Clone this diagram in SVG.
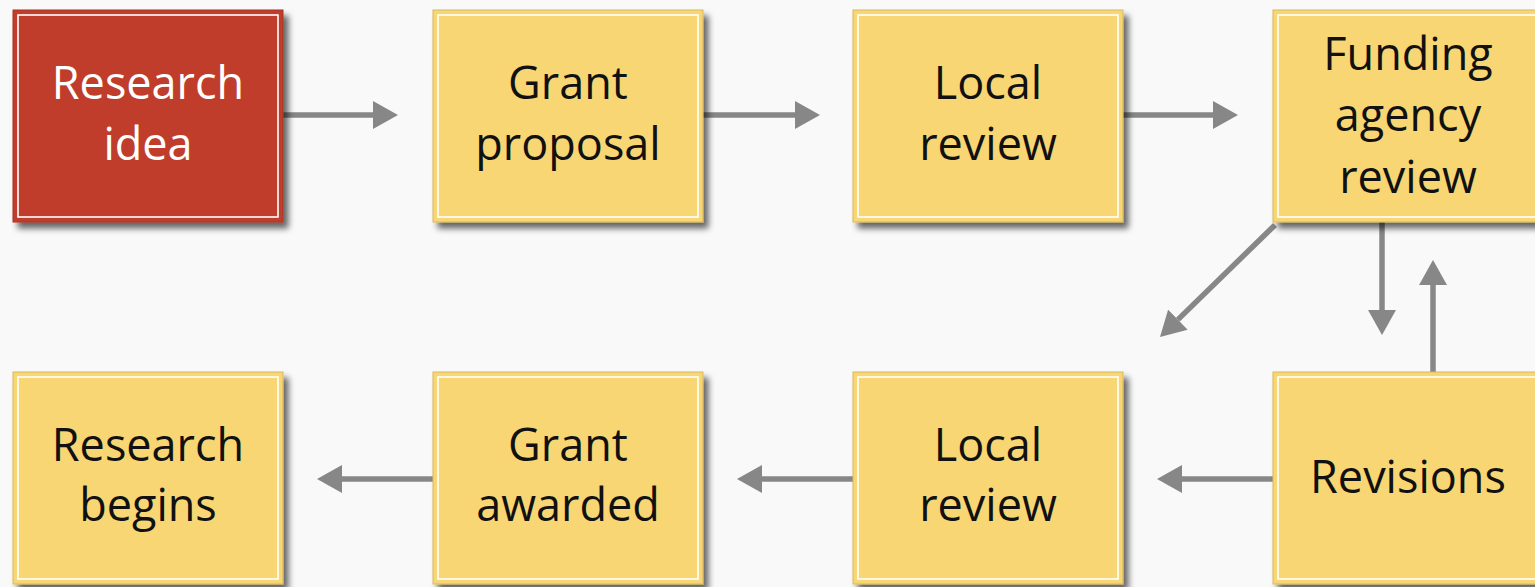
<svg xmlns="http://www.w3.org/2000/svg" width="1535" height="587" viewBox="0 0 1535 587">
  <defs>
    <filter id="shadow" x="-10%" y="-10%" width="130%" height="130%">
      <feGaussianBlur in="SourceAlpha" stdDeviation="3"/>
      <feOffset dx="5" dy="6" result="off"/>
      <feComponentTransfer><feFuncA type="linear" slope="0.6"/></feComponentTransfer>
      <feMerge><feMergeNode/><feMergeNode in="SourceGraphic"/></feMerge>
    </filter>
    <marker id="head" viewBox="0 0 25 28" refX="0" refY="14" markerWidth="25" markerHeight="28" markerUnits="userSpaceOnUse" orient="auto">
      <polygon points="0,0 25,14 0,28" fill="#878787"/>
    </marker>
    <style>
      .box { stroke: #d8b85c; stroke-width: 1; }
      .yellow { fill: #f8d673; }
      .red { fill: #bf3e2b; stroke: #a83322; }
      .inner { fill: none; stroke: #ffffff; stroke-width: 1.6; }
      .label { font-family: "Open Sans", "Noto Sans", sans-serif; font-size: 45px; text-anchor: middle; fill: #111111; }
      .light { fill: #ffffff; }
      .conn { stroke: #878787; stroke-width: 5.5; fill: none; marker-end: url(#head); }
    </style>
  </defs>

  <rect width="1535" height="587" fill="#f9f9f9"/>

  <!-- connectors -->
  <g id="connectors">
    <path class="conn" d="M283,115 H373"/>
    <path class="conn" d="M703,115 H795"/>
    <path class="conn" d="M1123,115 H1213"/>
    <path class="conn" d="M1382,222 V310"/>
    <path class="conn" d="M1433,372 V285"/>
    <path class="conn" d="M1275,225 L1177.9,319.6"/>
    <path class="conn" d="M1273,479 H1182"/>
    <path class="conn" d="M853,479 H762"/>
    <path class="conn" d="M433,479 H342"/>
  </g>

  <!-- top row -->
  <g id="research-idea">
    <rect class="box red" x="13" y="10" width="270" height="212" filter="url(#shadow)"/>
    <rect class="inner" x="18" y="15" width="260" height="202"/>
    <text class="label light" x="148" y="99">Research</text>
    <text class="label light" x="148" y="160">idea</text>
  </g>
  <g id="grant-proposal">
    <rect class="box yellow" x="433" y="10" width="270" height="212" filter="url(#shadow)"/>
    <rect class="inner" x="438" y="15" width="260" height="202"/>
    <text class="label" x="568" y="99">Grant</text>
    <text class="label" x="568" y="160">proposal</text>
  </g>
  <g id="local-review-1">
    <rect class="box yellow" x="853" y="10" width="270" height="212" filter="url(#shadow)"/>
    <rect class="inner" x="858" y="15" width="260" height="202"/>
    <text class="label" x="988" y="99">Local</text>
    <text class="label" x="988" y="160">review</text>
  </g>
  <g id="funding-agency-review">
    <rect class="box yellow" x="1273" y="10" width="270" height="212" filter="url(#shadow)"/>
    <rect class="inner" x="1278" y="15" width="260" height="202"/>
    <text class="label" x="1408" y="70">Funding</text>
    <text class="label" x="1408" y="131">agency</text>
    <text class="label" x="1408" y="193">review</text>
  </g>

  <!-- bottom row -->
  <g id="research-begins">
    <rect class="box yellow" x="13" y="372" width="270" height="212" filter="url(#shadow)"/>
    <rect class="inner" x="18" y="377" width="260" height="202"/>
    <text class="label" x="148" y="461">Research</text>
    <text class="label" x="148" y="521">begins</text>
  </g>
  <g id="grant-awarded">
    <rect class="box yellow" x="433" y="372" width="270" height="212" filter="url(#shadow)"/>
    <rect class="inner" x="438" y="377" width="260" height="202"/>
    <text class="label" x="568" y="461">Grant</text>
    <text class="label" x="568" y="521">awarded</text>
  </g>
  <g id="local-review-2">
    <rect class="box yellow" x="853" y="372" width="270" height="212" filter="url(#shadow)"/>
    <rect class="inner" x="858" y="377" width="260" height="202"/>
    <text class="label" x="988" y="461">Local</text>
    <text class="label" x="988" y="521">review</text>
  </g>
  <g id="revisions">
    <rect class="box yellow" x="1273" y="372" width="270" height="212" filter="url(#shadow)"/>
    <rect class="inner" x="1278" y="377" width="260" height="202"/>
    <text class="label" x="1408" y="493">Revisions</text>
  </g>
</svg>
